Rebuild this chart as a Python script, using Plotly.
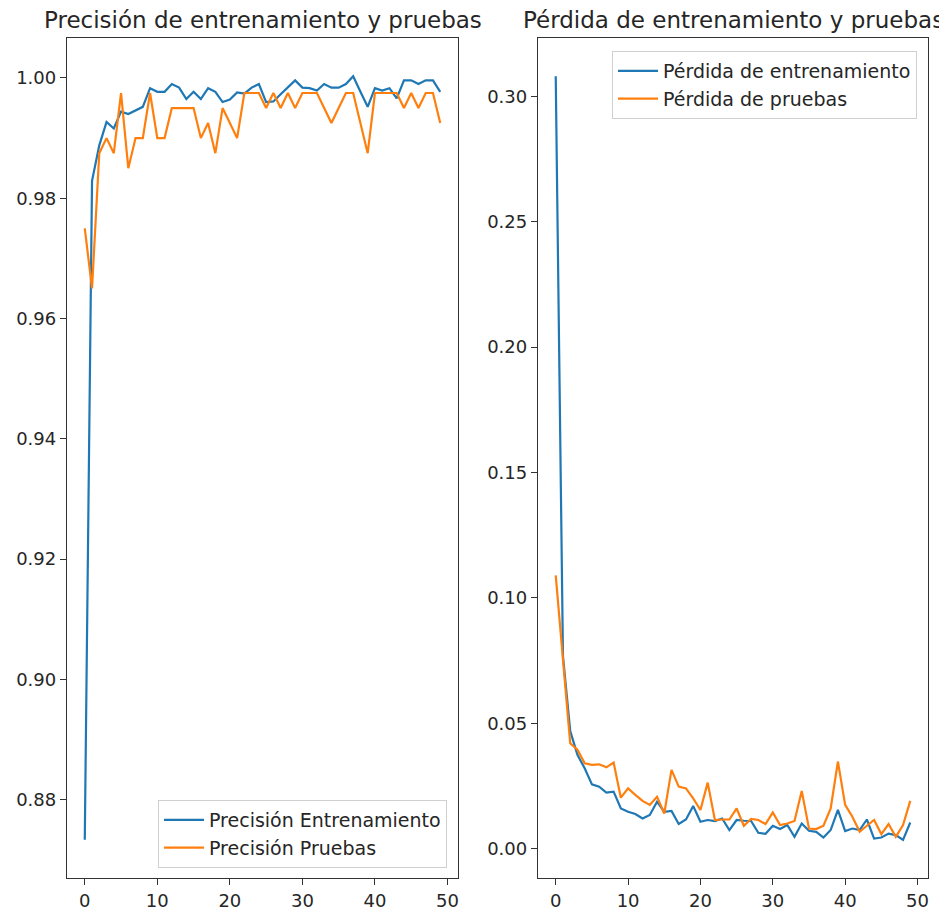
import plotly.graph_objects as go

epochs = list(range(50))

train_acc = [0.8733, 0.9829, 0.9888, 0.9927, 0.9916, 0.9944, 0.9940, 0.9946, 0.9952, 0.9983,
             0.9977, 0.9977, 0.9990, 0.9984, 0.9965, 0.9977, 0.9965, 0.9983, 0.9977, 0.9960,
             0.9964, 0.9976, 0.9974, 0.9984, 0.9990, 0.9960, 0.9961, 0.9973, 0.9984, 0.9996,
             0.9984, 0.9983, 0.9979, 0.9990, 0.9984, 0.9984, 0.9990, 1.0003, 0.9977, 0.9952,
             0.9983, 0.9979, 0.9983, 0.9966, 0.9996, 0.9996, 0.9990, 0.9996, 0.9996, 0.9977]

test_acc = [0.975, 0.965, 0.9875, 0.99, 0.9875, 0.9975, 0.985, 0.99, 0.99, 0.9975,
            0.99, 0.99, 0.995, 0.995, 0.995, 0.995, 0.99, 0.9925, 0.9875, 0.995,
            0.9925, 0.99, 0.9975, 0.9975, 0.9975, 0.995, 0.9975, 0.995, 0.9975, 0.995,
            0.9975, 0.9975, 0.9975, 0.995, 0.9925, 0.995, 0.9975, 0.9975, 0.9925, 0.9875,
            0.9975, 0.9975, 0.9975, 0.9975, 0.995, 0.9975, 0.995, 0.9975, 0.9975, 0.9925]

train_loss = [0.308, 0.0768, 0.047, 0.0375, 0.0321, 0.0257, 0.0248, 0.0224, 0.0228, 0.0161,
              0.0148, 0.0139, 0.0121, 0.0135, 0.0188, 0.0148, 0.0151, 0.0099, 0.0117, 0.0171,
              0.0108, 0.0115, 0.0111, 0.0121, 0.0075, 0.0115, 0.0112, 0.0111, 0.0064, 0.0060,
              0.0092, 0.0079, 0.0095, 0.0048, 0.0101, 0.0072, 0.0068, 0.0045, 0.0075, 0.0155,
              0.0071, 0.0081, 0.0075, 0.0117, 0.0041, 0.0045, 0.0061, 0.0055, 0.0036, 0.0105]

test_loss = [0.109, 0.075, 0.0421, 0.0395, 0.0341, 0.0335, 0.0337, 0.0325, 0.0344, 0.0204,
             0.0241, 0.0215, 0.0191, 0.0175, 0.0208, 0.0141, 0.0315, 0.0248, 0.0241, 0.0201,
             0.0155, 0.0264, 0.0115, 0.0117, 0.0117, 0.0161, 0.0092, 0.0119, 0.0115, 0.0099,
             0.0145, 0.0095, 0.0101, 0.0111, 0.0231, 0.0081, 0.0079, 0.0092, 0.0161, 0.0348,
             0.0175, 0.0128, 0.0068, 0.0092, 0.0115, 0.0059, 0.0099, 0.0048, 0.0095, 0.0191]

titles = ["Precisión de entrenamiento y pruebas", "Pérdida de entrenamiento y pruebas"]
names = ["Precisión Entrenamiento", "Precisión Pruebas",
         "Pérdida de entrenamiento", "Pérdida de pruebas"]
x_ticks = [0, 10, 20, 30, 40, 50]
acc_ticks = [0.88, 0.90, 0.92, 0.94, 0.96, 0.98, 1.00]
loss_ticks = [0.00, 0.05, 0.10, 0.15, 0.20, 0.25, 0.30]

BLUE = "#1f77b4"
ORANGE = "#ff7f0e"
FONT = "DejaVu Sans"
W, H = 947, 909
OFF = 8  # page body margin

fig = go.Figure()
series = [(train_acc, names[0], BLUE, "x", "y", "legend"),
          (test_acc, names[1], ORANGE, "x", "y", "legend"),
          (train_loss, names[2], BLUE, "x2", "y2", "legend2"),
          (test_loss, names[3], ORANGE, "x2", "y2", "legend2")]
for k, (vals, nm, col, xa, ya, lg) in enumerate(series):
    fig.add_trace(go.Scatter(x=epochs, y=vals, mode="lines", name=nm,
                             line=dict(color=col, width=2.2), xaxis=xa, yaxis=ya,
                             legend=lg))


def px_x(p):
    return (p - OFF) / W


def px_y(p):
    return 1 - (p - OFF) / H


dom_y = [px_y(878), px_y(38)]
dom_x1 = [px_x(67), px_x(458)]
dom_x2 = [px_x(538), px_x(928)]

axis_common = dict(showline=True, linecolor="#333333", linewidth=1.3, mirror=True,
                   ticks="outside", ticklen=6, tickwidth=1.3, tickcolor="#333333",
                   showgrid=False, zeroline=False,
                   tickfont=dict(family=FONT, size=18, color="#262626"))

xr = [-2.45, 51.45]
acc_min, acc_max = min(train_acc + test_acc), max(train_acc + test_acc)
acc_pad = (acc_max - acc_min) * 0.05
loss_min, loss_max = min(train_loss + test_loss), max(train_loss + test_loss)
loss_pad = (loss_max - loss_min) * 0.05

legend_common = dict(bgcolor="rgba(255,255,255,0.8)", bordercolor="#d0d0d0", borderwidth=1,
                     font=dict(family=FONT, size=19, color="#262626"), tracegroupgap=0,
                     itemwidth=40)

fig.update_layout(
    width=W, height=H,
    margin=dict(l=0, r=0, t=0, b=0),
    paper_bgcolor="white", plot_bgcolor="white",
    font=dict(family=FONT, color="#262626"),
    xaxis=dict(domain=dom_x1, range=xr, tickvals=x_ticks, anchor="y", **axis_common),
    yaxis=dict(domain=dom_y, range=[acc_min - acc_pad, acc_max + acc_pad], tickvals=acc_ticks,
               tickformat=".2f", anchor="x", **axis_common),
    xaxis2=dict(domain=dom_x2, range=xr, tickvals=x_ticks, anchor="y2", **axis_common),
    yaxis2=dict(domain=dom_y, range=[loss_min - loss_pad, loss_max + loss_pad], tickvals=loss_ticks,
                tickformat=".2f", anchor="x2", **axis_common),
    legend=dict(x=px_x(447), y=px_y(868), xanchor="right", yanchor="bottom", **legend_common),
    legend2=dict(x=px_x(917), y=px_y(51), xanchor="right", yanchor="top", **legend_common),
    showlegend=True,
)

for i, t in enumerate(titles):
    dom = dom_x1 if i == 0 else dom_x2
    fig.add_annotation(text=t, x=(dom[0] + dom[1]) / 2, y=px_y(20), xref="paper", yref="paper",
                       xanchor="center", yanchor="middle", showarrow=False,
                       font=dict(family=FONT, size=23, color="#262626"))

fig.write_html("out.html")
